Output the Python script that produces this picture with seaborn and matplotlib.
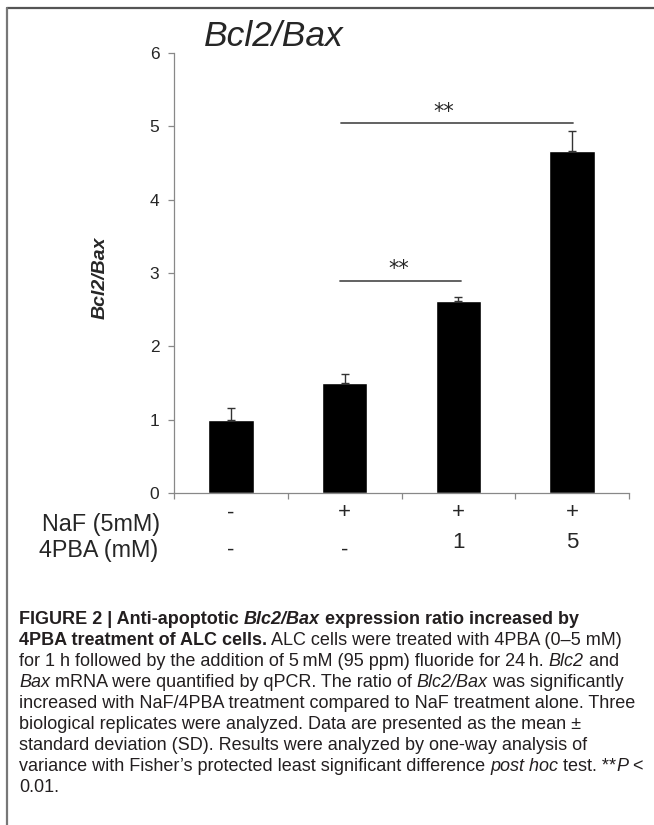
import numpy as np
import matplotlib
matplotlib.use("Agg")
import matplotlib.pyplot as plt
import seaborn as sns
from matplotlib.lines import Line2D
from matplotlib.transforms import IdentityTransform, blended_transform_factory

# data
groups = ["control", "NaF", "NaF+4PBA 1", "NaF+4PBA 5"]
ratio_mean = [1.00, 1.50, 2.62, 4.67]
ratio_sd = [0.16, 0.12, 0.05, 0.27]
naf_row = ["-", "+", "+", "+"]
pba_row = ["-", "-", "1", "5"]
yticks = [0, 1, 2, 3, 4, 5, 6]

sns.set_style("white")
plt.rcParams["font.family"] = ["Liberation Sans", "DejaVu Sans"]

W, H = 654, 825
fig = plt.figure(figsize=(W / 100, H / 100), dpi=100)
fig.patch.set_facecolor("white")

# axes placed in pixels: x 174..629, y(0)=493, y(6)=53
ax = fig.add_axes([174 / W, (H - 493) / H, 455 / W, 440 / H])
sns.barplot(x=groups, y=ratio_mean, color="black", width=0.4, errorbar=None,
            saturation=1, ax=ax)
ax.errorbar(range(len(groups)), ratio_mean, yerr=[np.zeros(len(groups)), ratio_sd],
            fmt="none", ecolor="#333333", elinewidth=1, capsize=3, capthick=1)

ax.set_xlim(-0.5, 3.5)
ax.set_ylim(0, 6)
ax.set_xticks(np.arange(-0.5, 4, 1))
ax.set_xticklabels([])
ax.set_yticks(yticks)
ax.set_yticklabels([str(t) for t in yticks], fontsize=12.5)
ax.tick_params(axis="both", direction="out", length=4.5, width=0.9, color="#888888",
               left=True, bottom=True, pad=6)
ax.set_xlabel("")
ax.set_ylabel("")
for s in ["top", "right"]:
    ax.spines[s].set_visible(False)
for s in ["left", "bottom"]:
    ax.spines[s].set_color("#888888")
    ax.spines[s].set_linewidth(0.9)

# significance brackets
ax.plot([0.97, 3.01], [5.05, 5.05], color="#555555", lw=1.3, clip_on=False)
ax.text(1.87, 5.19, "**", ha="center", va="center", fontsize=15, family="DejaVu Sans")
ax.plot([0.96, 2.02], [2.89, 2.89], color="#555555", lw=1.3, clip_on=False)
ax.text(1.48, 3.06, "**", ha="center", va="center", fontsize=15, family="DejaVu Sans")

# treatment rows under the axis
tr = blended_transform_factory(ax.transData, ax.transAxes)
for i, s in enumerate(naf_row):
    ax.text(i, -20 / 440, s, transform=tr, ha="center", va="center", fontsize=16)
for i, s in enumerate(pba_row):
    yy = -57 / 440 if s == "-" else -50 / 440
    ax.text(i, yy, s, transform=tr, ha="center", va="center", fontsize=16)
ax.text(-14 / 455, -32 / 440, "NaF (5mM)", transform=ax.transAxes, ha="right",
        va="center", fontsize=16.8)
ax.text(-16 / 455, -57 / 440, "4PBA (mM)", transform=ax.transAxes, ha="right",
        va="center", fontsize=16.8)

# title and y label
fig.text(204 / W, 1 - 37 / H, "Bcl2/Bax", fontsize=25.5, style="italic",
         ha="left", va="center")
fig.text(100 / W, 1 - 278 / H, "Bcl2/Bax", fontsize=14, style="italic",
         weight="bold", rotation=90, ha="center", va="center")

# frame lines (top and left)
fig.add_artist(Line2D([7 / W, 1], [1 - 8 / H, 1 - 8 / H], color="#555555", lw=1.6))
fig.add_artist(Line2D([7 / W, 7 / W], [0, 1 - 8 / H], color="#777777", lw=1.6))

# caption with mixed styles
n, b, i_, bi = ("normal", "normal"), ("bold", "normal"), ("normal", "italic"), ("bold", "italic")
caption = [
    [("FIGURE 2 | Anti-apoptotic ", b), ("Blc2/Bax", bi), (" expression ratio increased by", b)],
    [("4PBA treatment of ALC cells.", b), (" ALC cells were treated with 4PBA (0\u20135 mM)", n)],
    [("for 1 h followed by the addition of 5\u2009mM (95 ppm) fluoride for 24\u2009h. ", n),
     ("Blc2", i_), (" and", n)],
    [("Bax", i_), (" mRNA were quantified by qPCR. The ratio of ", n), ("Blc2/Bax", i_),
     (" was significantly", n)],
    [("increased with NaF/4PBA treatment compared to NaF treatment alone. Three", n)],
    [("biological replicates were analyzed. Data are presented as the mean \u00b1", n)],
    [("standard deviation (SD). Results were analyzed by one-way analysis of", n)],
    [("variance with Fisher\u2019s protected least significant difference ", n),
     ("post hoc", i_), (" test. **", n), ("P", i_), (" <", n)],
    [("0.01.", n)],
]

renderer = fig.canvas.get_renderer()
cap_size = 13.0
cap_color = "#231f20"


def seg_width(txt, weight, style):
    a = fig.text(0, 0, "|" + txt + "|", fontsize=cap_size, weight=weight, style=style)
    c = fig.text(0, 0, "||", fontsize=cap_size, weight=weight, style=style)
    w = a.get_window_extent(renderer).width - c.get_window_extent(renderer).width
    a.remove()
    c.remove()
    return w


for k, line in enumerate(caption):
    x = 19
    y = H - (624 + 21 * k)
    for txt, (weight, style) in line:
        fig.text(x, y, txt, transform=IdentityTransform(), fontsize=cap_size,
                 weight=weight, style=style, color=cap_color, ha="left", va="baseline")
        x += seg_width(txt, weight, style)

fig.savefig("out.png", dpi=100)
